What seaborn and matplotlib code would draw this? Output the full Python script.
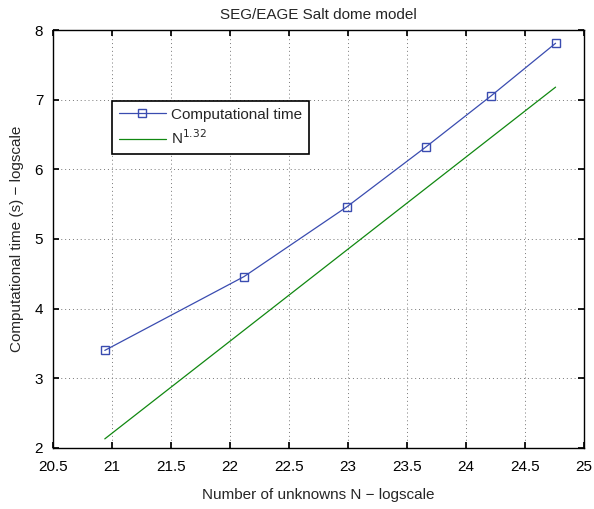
import numpy as np
import pandas as pd
import seaborn as sns
import matplotlib
matplotlib.use("Agg")
import matplotlib.pyplot as plt

# --- data ---
log_n = [20.94, 22.12, 22.99, 23.66, 24.21, 24.76]
log_time = [3.40, 4.46, 5.46, 6.32, 7.05, 7.81]
fit_x = [20.94, 24.76]
fit_y = [2.13, 7.18]

df = pd.DataFrame({"N": log_n, "t": log_time})
df_fit = pd.DataFrame({"N": fit_x, "t": fit_y})

sns.set_theme(style="ticks")
plt.rcParams["font.family"] = ["Liberation Sans", "DejaVu Sans"]

fig = plt.figure(figsize=(5.94, 5.09), dpi=100)
ax = fig.add_axes([0.089, 0.12, 0.894, 0.821])

sns.lineplot(data=df, x="N", y="t", ax=ax, color="#3a4cb0", linewidth=0.9,
             marker="s", markersize=6, markerfacecolor="none",
             markeredgecolor="#3a4cb0", markeredgewidth=1.0,
             label="Computational time")
sns.lineplot(data=df_fit, x="N", y="t", ax=ax, color="#118811", linewidth=0.9,
             label=r"N$^{1.32}$")

ax.set_xlim(20.5, 25)
ax.set_ylim(2, 8)
ax.set_xticks(np.arange(20.5, 25.01, 0.5))
ax.set_xticklabels(["20.5", "21", "21.5", "22", "22.5", "23", "23.5", "24", "24.5", "25"])
ax.set_yticks(range(2, 9))
ax.grid(True, linestyle=(0, (1, 3)), color="#777777", linewidth=0.7)
ax.tick_params(direction="in", top=True, right=True, labelsize=11, length=4, colors="black")
ax.tick_params(axis="x", pad=9)
ax.tick_params(axis="y", pad=7)
for s in ax.spines.values():
    s.set_visible(True)
    s.set_linewidth(1.0)
    s.set_color("black")

ax.set_title("SEG/EAGE Salt dome model", fontsize=11, pad=8)
ax.set_xlabel("Number of unknowns N \u2212 logscale", fontsize=11, labelpad=10)
ax.set_ylabel("Computational time (s) \u2212 logscale", fontsize=11, labelpad=8)

leg = ax.legend(loc="upper left", bbox_to_anchor=(0.111, 0.831), fontsize=11,
                frameon=True, fancybox=False, edgecolor="black", framealpha=1,
                borderpad=0.45, handlelength=3.1, handletextpad=0.35,
                labelspacing=0.45, borderaxespad=0)
leg.get_frame().set_linewidth(1.2)

fig.savefig("out.png", dpi=100)
